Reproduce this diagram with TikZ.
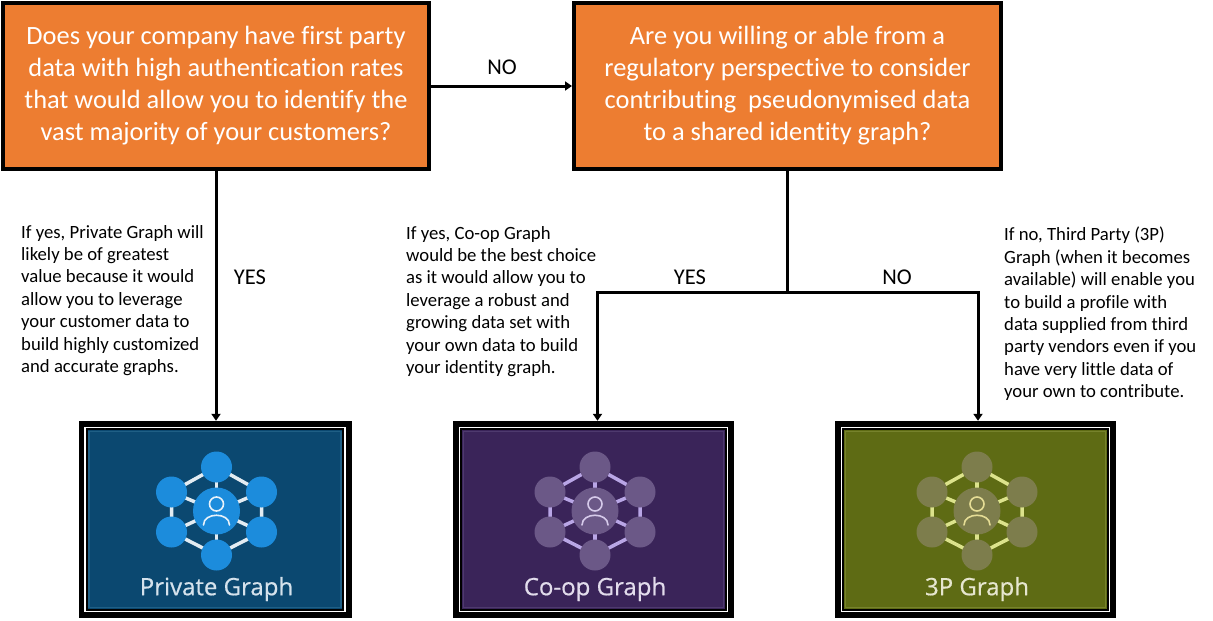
\documentclass[tikz,border=0pt]{standalone}
\usepackage{fontspec}
\setmainfont{Carlito}[Ligatures={NoCommon,NoContextual,NoRare}]
\newfontfamily\iconfont{Open Sans}[FakeBold=0.6]
\usetikzlibrary{arrows.meta}
\definecolor{qorange}{HTML}{ED7D31}
\definecolor{pbg}{HTML}{0B4870}
\definecolor{prim}{HTML}{1F5F85}
\definecolor{pcirc}{HTML}{1C8CDC}
\definecolor{pedge}{HTML}{E3ECF2}
\definecolor{pman}{HTML}{E8F2FA}
\definecolor{plab}{HTML}{D5E2EC}
\definecolor{cbg}{HTML}{3A2459}
\definecolor{crim}{HTML}{4E3A6E}
\definecolor{ccirc}{HTML}{6B5887}
\definecolor{cedge}{HTML}{B9A6E6}
\definecolor{cman}{HTML}{D6CAEA}
\definecolor{clab}{HTML}{E2DCEC}
\definecolor{tbg}{HTML}{5E6B14}
\definecolor{trim}{HTML}{76822C}
\definecolor{tcirc}{HTML}{7D7D4C}
\definecolor{tedge}{HTML}{DCE38C}
\definecolor{tman}{HTML}{E5DD95}
\definecolor{tlab}{HTML}{E6E6CF}
\newcommand\graphicon[8]{%
  \fill[#2] ([xshift=9.5pt,yshift=-9.5pt]#1.north west) rectangle ([xshift=-9.5pt,yshift=9.5pt]#1.south east);
  \draw[#3, line width=1.5pt] ([xshift=10.5pt,yshift=-10.5pt]#1.north west) rectangle ([xshift=-10.5pt,yshift=10.5pt]#1.south east);
  \draw[white, line width=1.6pt] ([xshift=6.8pt,yshift=-6.8pt]#1.north west) rectangle ([xshift=-6.8pt,yshift=6.8pt]#1.south east);
  \begin{scope}[shift={(#1.center)}, shift={(1.5,-8.5)}]
    \coordinate (gt) at (0,-44);
    \coordinate (gur) at (45,-19);
    \coordinate (glr) at (45,21);
    \coordinate (gb) at (0,44);
    \coordinate (gll) at (-45,21);
    \coordinate (gul) at (-45,-19);
    \draw[#5, line width=3.5pt] (gt) -- (gur) -- (glr) -- (gb) -- (gll) -- (gul) -- cycle;
    \foreach \p in {gt,gur,glr,gb,gll,gul} {\draw[#5, line width=3.5pt] (0,0) -- (\p);}
    \foreach \p in {gt,gur,glr,gb,gll,gul} {\fill[#4] (\p) circle[radius=15.5];}
    \fill[#4] (0,0) circle[radius=23.5];
    \draw[#6, line width=1.6pt] (0,-7) circle[radius=7];
    \draw[#6, line width=1.6pt, line cap=round] (-13,14) .. controls (-13,1) and (13,1) .. (13,14);
    \node[font=\iconfont\fontsize{24}{27}\selectfont, text=#7, inner sep=0pt] (#1-label) at (0,78) {#8};
  \end{scope}
}
\begin{document}
\begin{tikzpicture}[x=1pt,y=-1pt,
  qbox/.style={draw=black, line width=4pt, fill=qorange, text=white, align=center, inner sep=0pt, font=\fontsize{26.4}{32}\selectfont},
  note/.style={anchor=north west, align=left, inner sep=0pt, font=\fontsize{18.7}{22.4}\selectfont},
  lbl/.style={inner sep=0pt, font=\fontsize{22.5}{27}\selectfont},
  seg/.style={line width=3pt},
  conn/.style={line width=3pt, -{Triangle[width=9pt,length=7pt]}},
  frame/.style={fill=black, inner sep=0pt}]
\useasboundingbox (0,0) rectangle (1213,621);
\fill[white] (0,0) rectangle (1213,621);
\node[qbox, minimum width=426pt, minimum height=166pt] (q1) at (216,86) {Does your company have first party\\data with high authentication rates\\that would allow you to identify the\\vast majority of your customers?};
\node[qbox, minimum width=427pt, minimum height=166pt] (q2) at (787.5,86) {Are you willing or able from a\\regulatory perspective to consider\\contributing\ \ pseudonymised data\\to a shared identity graph?};
\node[frame, minimum width=273pt, minimum height=197pt] (pg) at (215,519.5) {};
\node[frame, minimum width=281pt, minimum height=197pt] (cg) at (593.5,519.5) {};
\node[frame, minimum width=281pt, minimum height=197pt] (tg) at (975.5,519.5) {};
\graphicon{pg}{pbg}{prim}{pcirc}{pedge}{pman}{plab}{Private Graph}
\graphicon{cg}{cbg}{crim}{ccirc}{cedge}{cman}{clab}{Co-op Graph}
\graphicon{tg}{tbg}{trim}{tcirc}{tedge}{tman}{tlab}{3P Graph}
\coordinate (j) at (787.5,292);
\draw[conn] (q1.east) -- (q2.west);
\draw[conn] (q1.south) -- (q1.south |- pg.north);
\draw[seg] (q2.south) -- (j);
\draw[conn] (j) -| ([xshift=4pt]cg.north);
\draw[conn] (j) -| ([xshift=2.5pt]tg.north);
\node[lbl] (no1) at (502,67) {NO};
\node[lbl] (yes1) at (250,277) {YES};
\node[lbl] (yes2) at (690,277) {YES};
\node[lbl] (no2) at (897,277) {NO};
\node[note] (n1) at (21,225) {If yes, Private Graph will\\likely be of greatest\\value because it would\\allow you to leverage\\your customer data to\\build highly customized\\and accurate graphs.};
\node[note] (n2) at (406,226) {If yes, Co-op Graph\\would be the best choice\\as it would allow you to\\leverage a robust and\\growing data set with\\your own data to build\\your identity graph.};
\node[note] (n3) at (1004,227) {If no, Third Party (3P)\\Graph (when it becomes\\available) will enable you\\to build a profile with\\data supplied from third\\party vendors even if you\\have very little data of\\your own to contribute.};
\end{tikzpicture}
\end{document}
